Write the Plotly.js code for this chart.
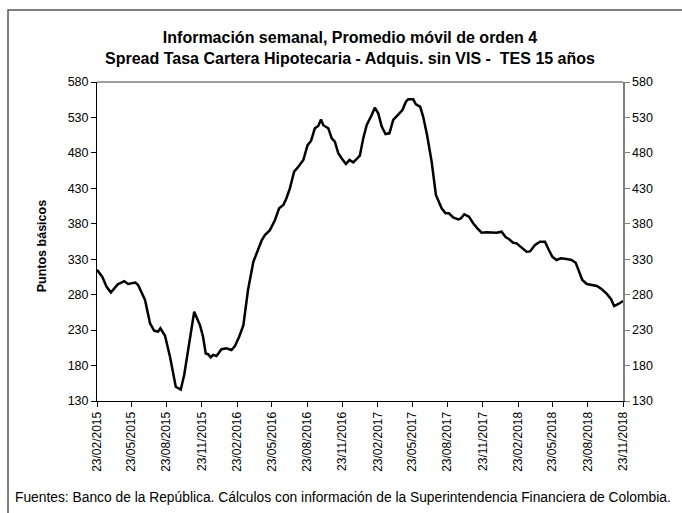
<!DOCTYPE html>
<html>
<head>
<meta charset="utf-8">
<script src="https://cdn.plot.ly/plotly-3.0.1.min.js"></script>
<style>html,body{margin:0;padding:0;background:#fff;}#chart{width:682px;height:513px;}</style>
</head>
<body>
<div id="chart"></div>
<script>
const dates = ['2015-02-23','2015-03-09','2015-03-20','2015-03-31','2015-04-18','2015-05-05','2015-05-15','2015-06-03','2015-06-10','2015-06-28',
'2015-07-11','2015-07-22','2015-08-01','2015-08-07','2015-08-19','2015-09-01','2015-09-16','2015-09-29','2015-10-08','2015-10-23',
'2015-11-03','2015-11-18','2015-11-26','2015-12-03','2015-12-09','2015-12-16','2015-12-22','2015-12-31','2016-01-13','2016-01-26',
'2016-02-08','2016-02-17','2016-02-28','2016-03-10','2016-03-22','2016-04-05','2016-04-18','2016-04-27','2016-05-05','2016-05-18',
'2016-05-31','2016-06-11','2016-06-22','2016-06-30','2016-07-09','2016-07-20','2016-07-31','2016-08-13','2016-08-24','2016-09-02',
'2016-09-12','2016-09-21','2016-09-28','2016-10-04','2016-10-17','2016-10-26','2016-11-03','2016-11-12','2016-11-22','2016-12-02',
'2016-12-11','2016-12-21','2016-12-30','2017-01-07','2017-01-16','2017-01-25','2017-02-07','2017-02-15','2017-02-24','2017-03-05',
'2017-03-15','2017-03-25','2017-04-04','2017-04-17','2017-04-28','2017-05-07','2017-05-13','2017-05-26','2017-06-02','2017-06-13',
'2017-06-21','2017-07-01','2017-07-13','2017-07-24','2017-08-01','2017-08-08','2017-08-18','2017-08-27','2017-09-07','2017-09-20',
'2017-09-27','2017-10-06','2017-10-18','2017-10-29','2017-11-09','2017-11-20','2017-12-03','2017-12-16','2017-12-29','2018-01-11',
'2018-01-22','2018-01-30','2018-02-10','2018-02-19','2018-03-06','2018-03-17','2018-03-26','2018-04-08','2018-04-21','2018-05-04',
'2018-05-14','2018-05-23','2018-06-03','2018-06-14','2018-06-29','2018-07-12','2018-07-23','2018-07-31','2018-08-09','2018-08-21',
'2018-09-03','2018-09-16','2018-09-29','2018-10-12','2018-10-23','2018-10-31','2018-11-11','2018-11-23'];

const spread = [315,305,291,283,294.6,299,295,297,293.6,272.5,
239.6,229,228,232.5,222,192.5,150,146,167,216,
256,237,220.7,197,196,191.6,195,193.5,203,204.3,
202,207.6,220.7,237,286.6,326.5,345,357,364,371,
385,401.8,406.5,416,430,453.5,460.5,470,491,496.8,
514.7,518,527,519,514.7,500.6,495.8,479.4,471.4,464.3,
470,466.7,471.4,476,500.6,519.3,533.4,543.7,535.8,517,
506.6,507.6,526.4,534.4,540.5,552.2,555.6,555.6,548.5,545.2,
531,505.2,467.6,420.6,409,401.8,394.8,394.8,389,386.3,
387.7,393.4,390,380.7,373.6,367.4,368,367.4,367.4,368.8,
360.9,358.5,353.3,352.4,345.4,340.6,341,350,354.7,354.7,
343,333.6,328.9,331.3,330.3,328.9,325,312.4,300.7,295,
293.6,292.2,287.6,281,273.5,264,266.9,271];

const yRange = [130, 580];
const xRange = ['2015-02-23', '2018-11-23'];
const titleText = 'Información semanal, Promedio móvil de orden 4<br>Spread Tasa Cartera Hipotecaria - Adquis. sin VIS -  TES 15 años';
const yTitle = 'Puntos básicos';
const footer = 'Fuentes: Banco de la República. Cálculos con información de la Superintendencia Financiera de Colombia.';

const F = 'Liberation Sans, Arial, sans-serif';

const traces = [
  {x: dates, y: spread, type: 'scatter', mode: 'lines', line: {color: '#000', width: 2.5}, hoverinfo: 'skip', showlegend: false},
  {x: dates, y: spread, type: 'scatter', mode: 'lines', yaxis: 'y2', line: {color: 'rgba(0,0,0,0)', width: 0}, hoverinfo: 'skip', showlegend: false}
];

const layout = {
  width: 682, height: 513,
  margin: {l: 97, r: 59, t: 82, b: 112},
  paper_bgcolor: '#fff', plot_bgcolor: '#fff',
  showlegend: false,
  font: {family: F, size: 12, color: '#000'},
  title: {text: titleText, font: {family: F, size: 16, color: '#000', weight: 'bold'},
          x: 350/682, xanchor: 'center', xref: 'container', y: 1 - 43/513, yanchor: 'middle', yref: 'container'},
  xaxis: {type: 'date', range: xRange, tick0: '2015-02-23', dtick: 'M3', tickformat: '%d/%m/%Y',
          tickangle: -90, ticks: 'outside', ticklen: 5, tickcolor: '#000', showgrid: false, zeroline: false,
          showline: true, linecolor: '#000', linewidth: 1, tickfont: {family: F, size: 12}},
  yaxis: {range: yRange, dtick: 50, tick0: 130, ticks: 'outside', ticklen: 5, tickcolor: '#000',
          showgrid: false, zeroline: false, showline: true, linecolor: '#000', linewidth: 1,
          tickfont: {family: F, size: 12.5}},
  yaxis2: {range: yRange, dtick: 50, tick0: 130, overlaying: 'y', side: 'right', ticks: 'outside', ticklen: 5,
           tickcolor: '#808080', showgrid: false, zeroline: false, showline: true, linecolor: '#808080', linewidth: 1.5,
           tickfont: {family: F, size: 12.5}},
  shapes: [
    {type: 'line', xref: 'paper', yref: 'paper', x0: 0, x1: 1, y0: 1, y1: 1, line: {color: '#808080', width: 1.5}},
    {type: 'rect', xref: 'paper', yref: 'paper', x0: (8-97)/526, x1: (690-97)/526, y0: (401-520)/319, y1: (401-10)/319,
     line: {color: '#555', width: 1.5}, fillcolor: 'rgba(0,0,0,0)', layer: 'below'}
  ],
  annotations: [
    {text: yTitle, xref: 'paper', yref: 'paper', x: (42-97)/526, y: 0.485, textangle: -90, showarrow: false,
     xanchor: 'center', yanchor: 'middle', font: {family: F, size: 12.5, color: '#000', weight: 'bold'}},
    {text: footer, xref: 'paper', yref: 'paper', x: (13-97)/526, y: (401-497)/319, showarrow: false,
     xanchor: 'left', yanchor: 'middle', font: {family: F, size: 13.8, color: '#000'}}
  ]
};

Plotly.newPlot('chart', traces, layout, {staticPlot: true, displayModeBar: false});
</script>
</body>
</html>
